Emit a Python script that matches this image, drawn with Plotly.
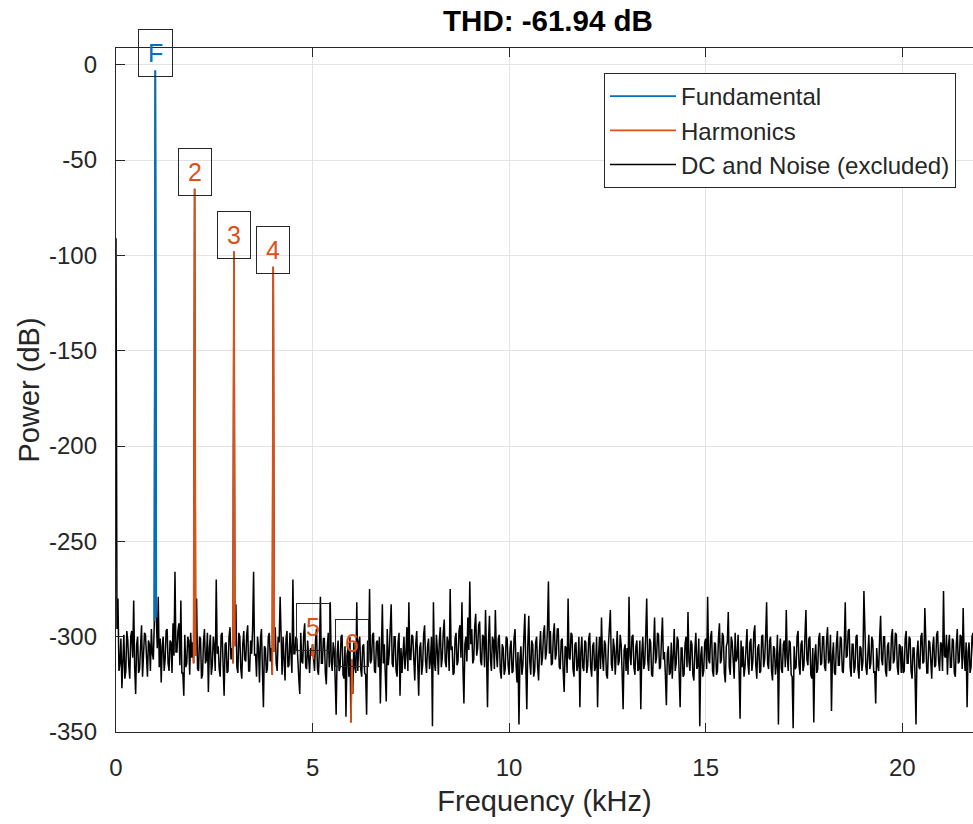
import plotly.graph_objects as go

# Frequency bin spacing (kHz) of the plotted spectrum
BIN_KHZ = 0.025

# Power spectrum (dB), one row per kHz, 40 bins per row (0.000 .. 21.975 kHz)
power_rows = [
    [-91, -296, -280, -318, -314, -301, -327, -309, -299, -322, -318, -297, -302, -315, -322, -300, -297, -311, -281, -316,
     -330, -304, -300, -319, -317, -305, -294, -321, -312, -298, -299, -313, -321, -302, -304, -318, -296, -309, -312, -292],
    [-3, -290, -306, -279, -316, -301, -324, -305, -300, -318, -312, -297, -296, -314, -318, -302, -303, -319, -293, -310,
     -266, -308, -308, -297, -293, -315, -281, -319, -319, -331, -299, -316, -314, -300, -302, -320, -298, -311, -303, -314],
    [-65, -310, -280, -317, -318, -300, -301, -322, -320, -303, -296, -314, -312, -298, -329, -306, -299, -320, -315, -300,
     -305, -318, -270, -309, -305, -317, -321, -299, -298, -315, -331, -304, -303, -319, -318, -300, -295, -312, -306, -314],
    [-98, -305, -283, -316, -319, -298, -300, -317, -322, -304, -297, -312, -313, -299, -294, -318, -318, -302, -309, -296,
     -266, -310, -309, -321, -300, -306, -324, -301, -296, -318, -337, -305, -306, -319, -317, -300, -298, -313, -306, -320],
    [-106, -308, -295, -314, -318, -300, -303, -279, -312, -320, -300, -309, -323, -301, -297, -316, -315, -298, -309, -319,
     -270, -309, -309, -300, -301, -318, -322, -330, -298, -313, -314, -299, -293, -316, -317, -302, -310, -319, -306, -310],
    [-304, -312, -318, -302, -296, -317, -320, -306, -279, -314, -314, -301, -301, -319, -325, -305, -298, -316, -282, -313,
     -318, -303, -307, -322, -341, -309, -302, -318, -316, -300, -299, -320, -322, -305, -342, -310, -306, -321, -300, -345],
    [-312, -330, -303, -316, -319, -282, -318, -303, -300, -317, -321, -305, -304, -319, -320, -341, -302, -313, -275, -314,
     -312, -299, -298, -318, -319, -303, -302, -316, -300, -335, -312, -283, -314, -304, -320, -334, -296, -315, -309, -298],
    [-283, -314, -316, -300, -300, -318, -321, -303, -298, -331, -306, -319, -306, -300, -317, -309, -295, -318, -282, -312,
     -312, -299, -300, -317, -323, -304, -297, -314, -331, -306, -303, -320, -315, -299, -294, -313, -319, -305, -301, -317],
    [-312, -300, -347, -282, -314, -318, -299, -307, -320, -302, -295, -316, -311, -298, -291, -313, -316, -300, -303, -318,
     -275, -307, -305, -320, -319, -301, -298, -315, -313, -297, -294, -311, -282, -316, -335, -304, -300, -313, -290, -307],
    [-271, -304, -296, -314, -312, -295, -288, -310, -306, -294, -292, -313, -315, -299, -300, -316, -286, -309, -337, -303,
     -289, -312, -318, -300, -302, -317, -286, -308, -316, -301, -299, -318, -322, -304, -306, -320, -317, -300, -301, -315],
    [-320, -306, -302, -319, -318, -301, -296, -314, -324, -308, -346, -312, -305, -320, -315, -300, -288, -316, -338, -305,
     -289, -313, -320, -302, -304, -321, -318, -303, -300, -316, -323, -306, -297, -315, -311, -298, -294, -312, -308, -296],
    [-271, -309, -297, -315, -314, -299, -293, -312, -309, -296, -296, -316, -317, -302, -301, -318, -329, -305, -306, -319,
     -280, -311, -312, -298, -299, -317, -321, -304, -303, -318, -315, -300, -337, -308, -300, -316, -318, -302, -303, -319],
    [-315, -301, -298, -316, -321, -305, -303, -318, -316, -300, -337, -310, -300, -317, -290, -311, -318, -302, -304, -320,
     -322, -305, -298, -286, -314, -318, -301, -306, -320, -303, -297, -315, -313, -299, -304, -319, -338, -307, -304, -318],
    [-306, -320, -279, -310, -315, -300, -299, -316, -320, -305, -302, -318, -317, -302, -338, -309, -300, -317, -314, -299,
     -280, -312, -318, -301, -303, -320, -321, -306, -290, -314, -311, -298, -299, -317, -316, -302, -290, -312, -308, -320],
    [-336, -309, -305, -320, -319, -303, -322, -310, -296, -318, -314, -300, -302, -319, -337, -306, -306, -321, -320, -304,
     -300, -316, -287, -313, -318, -302, -304, -320, -323, -307, -298, -317, -315, -301, -347, -310, -305, -321, -318, -303],
    [-301, -317, -279, -312, -314, -300, -297, -318, -321, -303, -304, -320, -318, -301, -293, -314, -312, -298, -300, -319,
     -324, -305, -303, -287, -316, -320, -300, -303, -316, -322, -298, -313, -311, -299, -318, -343, -302, -316, -305, -321],
    [-316, -301, -296, -314, -320, -303, -301, -318, -313, -298, -294, -315, -322, -306, -304, -319, -318, -300, -299, -316,
     -312, -300, -282, -314, -317, -302, -300, -318, -323, -305, -306, -320, -314, -299, -346, -309, -301, -317, -319, -304],
    [-302, -316, -286, -311, -318, -302, -303, -320, -321, -348, -305, -317, -316, -300, -297, -315, -320, -304, -302, -318,
     -315, -300, -286, -312, -315, -301, -300, -320, -322, -306, -345, -310, -304, -319, -317, -301, -298, -315, -314, -300],
    [-300, -316, -318, -302, -295, -314, -312, -299, -339, -310, -303, -319, -320, -304, -297, -315, -315, -300, -301, -318,
     -319, -305, -282, -311, -310, -297, -296, -316, -321, -304, -304, -319, -316, -300, -299, -317, -322, -305, -306, -318],
    [-313, -276, -308, -316, -320, -303, -299, -317, -314, -300, -302, -319, -318, -335, -306, -315, -318, -301, -289, -312,
     -315, -300, -300, -318, -321, -305, -303, -318, -317, -300, -296, -314, -312, -298, -299, -316, -320, -304, -305, -319],
    [-305, -319, -318, -301, -297, -314, -314, -300, -301, -318, -322, -306, -306, -320, -346, -309, -302, -316, -317, -300,
     -298, -314, -313, -285, -312, -319, -319, -302, -303, -317, -322, -305, -300, -316, -315, -299, -297, -313, -318, -303],
    [-304, -318, -276, -310, -311, -299, -320, -305, -299, -316, -316, -301, -302, -319, -321, -304, -296, -314, -313, -299,
     -300, -317, -285, -311, -318, -303, -337, -308, -303, -319, -316, -300, -298, -315, -320, -304, -305, -318, -314, -301],
]

fundamental_khz = 1.0
harmonic_khz = [2.0, 3.0, 4.0, 5.0, 6.0]
harmonic_labels = ["2", "3", "4", "5", "6"]
title_text = "THD: -61.94 dB"
x_ticks = [0, 5, 10, 15, 20]
x_ticklabels = ["0", "5", "10", "15", "20"]
y_ticks = [-350, -300, -250, -200, -150, -100, -50, 0]
y_ticklabels = ["-350", "-300", "-250", "-200", "-150", "-100", "-50", "0"]

power = [v for row in power_rows for v in row]
freq = [i * BIN_KHZ for i in range(len(power))]

BLUE = "#0072BD"
ORANGE = "#D95319"
AXC = "#262626"
FONT = "Liberation Sans, Arial, Helvetica, sans-serif"


def bin_slice(f):
    i = int(round(f / BIN_KHZ))
    return freq[i - 1:i + 2], power[i - 1:i + 2], i


fig = go.Figure()
fig.add_trace(go.Scatter(x=freq, y=power, mode="lines", name="DC and Noise (excluded)",
                         line=dict(color="black", width=1.5), legendrank=3))

fx, fy, fi = bin_slice(fundamental_khz)
fig.add_trace(go.Scatter(x=fx, y=fy, mode="lines", name="Fundamental",
                         line=dict(color=BLUE, width=1.8), legendrank=1))

annotations = []
annotations.append(dict(x=freq[fi], y=power[fi], xref="x", yref="y", text="F", showarrow=False,
                        yshift=17, font=dict(size=25, color=BLUE, family=FONT),
                        bordercolor=AXC, borderwidth=1, borderpad=9))

for k, (h, lab) in enumerate(zip(harmonic_khz, harmonic_labels)):
    hx, hy, hi = bin_slice(h)
    fig.add_trace(go.Scatter(x=hx, y=hy, mode="lines", name="Harmonics", legendgroup="harm",
                             showlegend=(k == 0), line=dict(color=ORANGE, width=1.8), legendrank=2))
    annotations.append(dict(x=freq[hi], y=power[hi], xref="x", yref="y", text=lab, showarrow=False,
                            yshift=17, font=dict(size=25, color=ORANGE, family=FONT),
                            bordercolor=AXC, borderwidth=1, borderpad=9))

fig.update_layout(
    width=973, height=824,
    margin=dict(l=116, r=0, t=48, b=92, autoexpand=False),
    paper_bgcolor="white", plot_bgcolor="white",
    font=dict(family=FONT, color=AXC, size=24),
    title=dict(text="<b>" + title_text + "</b>", x=548 / 973, xref="container", xanchor="center",
               y=1 - 21 / 824, yref="container", yanchor="middle",
               font=dict(size=29.5, color="black", family=FONT)),
    showlegend=True,
    legend=dict(x=(956 - 116) / (973 - 116), y=(732 - 73) / (732 - 48), xanchor="right", yanchor="top",
                bordercolor=AXC, borderwidth=1, bgcolor="white", itemwidth=66,
                font=dict(size=24, color=AXC, family=FONT), tracegroupgap=0),
    annotations=annotations,
)

fig.update_xaxes(range=[0, 21.8], tickvals=x_ticks, ticktext=x_ticklabels, ticks="inside", ticklen=9,
                 tickcolor=AXC, showline=True, linecolor=AXC, linewidth=1.3, mirror="ticks",
                 showgrid=True, gridcolor="#e3e3e3", gridwidth=1, zeroline=False, automargin=False,
                 tickfont=dict(size=24), ticklabelstandoff=14,
                 title=dict(text="Frequency (kHz)", font=dict(size=29), standoff=10))
fig.update_yaxes(range=[-350, 8.8], tickvals=y_ticks, ticktext=y_ticklabels,
                 ticks="inside", ticklen=9, tickcolor=AXC, showline=True, linecolor=AXC,
                 linewidth=1.3, mirror=False, showgrid=True, gridcolor="#e3e3e3", gridwidth=1,
                 zeroline=False, automargin=False, tickfont=dict(size=24), ticklabelstandoff=13,
                 title=dict(text="Power (dB)", font=dict(size=29), standoff=0))

fig.write_html("out.html", config={"displayModeBar": False},
               post_script="document.body.style.margin='0';document.body.style.overflow='hidden';")
